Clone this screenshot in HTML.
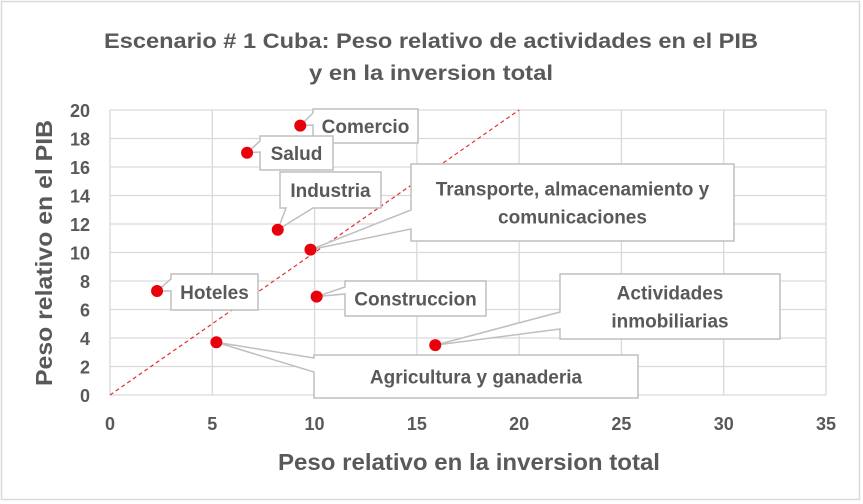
<!DOCTYPE html>
<html><head><meta charset="utf-8"><style>
html,body{margin:0;padding:0;background:#fff;}
svg{display:block;font-family:"Liberation Sans",sans-serif;}
</style></head><body>
<svg id="chart" width="863" height="504" viewBox="0 0 863 504" xmlns="http://www.w3.org/2000/svg">
<rect x="1.5" y="1.5" width="858" height="498" fill="#fff" stroke="#d9d9d9" stroke-width="1.5"/>
<text x="431" y="48" text-anchor="middle" font-size="21" font-weight="bold" fill="#595959" textLength="654" lengthAdjust="spacingAndGlyphs">Escenario # 1 Cuba: Peso relativo de actividades en el PIB</text>
<text x="431" y="80" text-anchor="middle" font-size="21" font-weight="bold" fill="#595959" textLength="244" lengthAdjust="spacingAndGlyphs">y en la inversion total</text>
<g id="grid"></g>
<g id="ticks"></g>
<line id="diag" stroke="#e03030" stroke-width="1.2" stroke-dasharray="4,3"/>
<g id="callouts"></g>
<g id="points"></g>
<text x="469" y="470" text-anchor="middle" font-size="23" font-weight="bold" fill="#595959" textLength="382" lengthAdjust="spacingAndGlyphs">Peso relativo en la inversion total</text>
<text transform="translate(52,253) rotate(-90)" text-anchor="middle" font-size="23" font-weight="bold" fill="#595959" textLength="266" lengthAdjust="spacingAndGlyphs">Peso relativo en el PIB</text>
</svg>
<script>
const labels = ["Comercio","Salud","Industria","Transporte, almacenamiento y|comunicaciones","Hoteles","Construccion","Actividades|inmobiliarias","Agricultura y ganaderia"];
const xValues = [9.3, 6.7, 8.2, 9.8, 2.3, 10.1, 15.9, 5.2];
const yValues = [18.9, 17.0, 11.6, 10.2, 7.3, 6.9, 3.5, 3.7];
const xTicks = [0,5,10,15,20,25,30,35];
const yTicks = [0,2,4,6,8,10,12,14,16,18,20];
const NS="http://www.w3.org/2000/svg";
const X0=110,X1=826,Y0=395,Y1=110;
function sx(v){return X0+(v-0)/(35-0)*(X1-X0);}
function sy(v){return Y0-(v-0)/(20-0)*(Y0-Y1);}
function mk(tag,attrs,parent){const e=document.createElementNS(NS,tag);for(const k in attrs)e.setAttribute(k,attrs[k]);parent.appendChild(e);return e;}
const grid=document.getElementById('grid'),ticks=document.getElementById('ticks');
yTicks.forEach(t=>{
  const l=mk('line',{x1:X0,x2:X1,y1:sy(t),y2:sy(t),stroke:'#d9d9d9','stroke-width':1.3},grid);
  
  
  const tx=mk('text',{x:90,y:sy(t)+7,'text-anchor':'end','font-size':18,'font-weight':'bold',fill:'#595959'},ticks);
  tx.textContent=t;
  
  
});
xTicks.forEach(t=>{
  const l=mk('line',{x1:sx(t),x2:sx(t),y1:Y1,y2:Y0,stroke:'#d9d9d9','stroke-width':1.3},grid);
  
  
  const tx=mk('text',{x:sx(t),y:430,'text-anchor':'middle','font-size':18,'font-weight':'bold',fill:'#595959'},ticks);
  tx.textContent=t;
  
  
});
const d=document.getElementById('diag');
d.setAttribute('x1',sx(0));d.setAttribute('y1',sy(0));d.setAttribute('x2',sx(20));d.setAttribute('y2',sy(20));
// callout box layout (positions only): [x,y,w,h,side,b1,b2]
const boxes=[[313,109,105,34,'L',4,16],[260,136,73,34,'L',5,16],[280,172,101,36,'B',6,33],[411,164,323,77,'L',46,65],[171,274,87,36,'L',5,17],[345,281,141,35,'L',6,13],[560,274,220,65,'L',38,55],[314,355,324,43,'L',3,17]];
const cg=document.getElementById('callouts'),pg=document.getElementById('points');
labels.forEach((lab,i)=>{
  const [bx,by,bw,bh,side,b1,b2]=boxes[i];
  const px=sx(xValues[i]),py=sy(yValues[i]);
  let p;
  if(side==='L') p=`M${bx},${by} H${bx+bw} V${by+bh} H${bx} V${by+b2} L${px},${py} L${bx},${by+b1} Z`;
  else p=`M${bx},${by} H${bx+bw} V${by+bh} H${bx+b2} L${px},${py} L${bx+b1},${by+bh} H${bx} Z`;
  const g=mk('g',{},cg);
  
  
  mk('path',{d:p,fill:'#fff',stroke:'#bfbfbf','stroke-width':1.5},g);
  const lines=lab.split('|');
  lines.forEach((ln,k)=>{
    const t=mk('text',{x:bx+bw/2,y:by+bh/2+7+(k-(lines.length-1)/2)*28,'text-anchor':'middle','font-size':19,'font-weight':'bold',fill:'#595959'},g);
    t.textContent=ln;
  });
  const c=mk('circle',{cx:px,cy:py,r:6,fill:'#e8000b'},pg);
  
  
});
</script>
</body></html>
